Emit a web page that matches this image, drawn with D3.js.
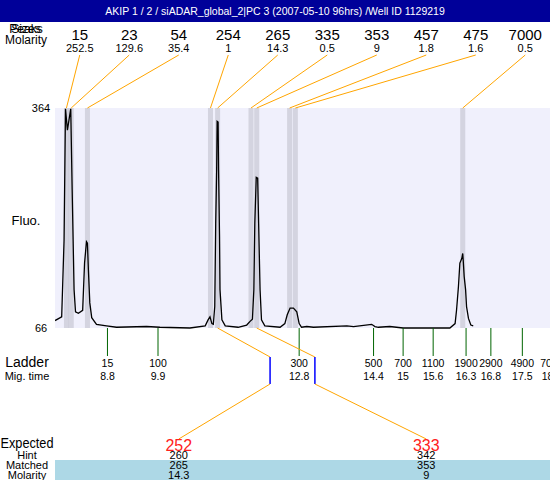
<!DOCTYPE html>
<html><head><meta charset="utf-8">
<script src="https://cdn.jsdelivr.net/npm/d3@7"></script>
<style>
body{margin:0;background:#fff}
svg{display:block}
text{font-family:"Liberation Sans",Arial,sans-serif}
</style>
</head><body><svg id="chart" width="550" height="480"></svg>
<script>
const titleText = "AKIP 1 / 2 / siADAR_global_2|PC 3 (2007-05-10 96hrs) /Well ID 1129219";
const peakSizes = [15, 23, 54, 254, 265, 335, 353, 457, 475, 7000];
const peakMolarity = [252.5, 129.6, 35.4, 1, 14.3, 0.5, 9, 1.8, 1.6, 0.5];
const peakTimes = [7.94, 8.04, 8.38, 10.96, 11.11, 11.81, 11.93, 12.62, 12.74, 16.25];
const ladderSizes = [15, 100, 300, 500, 700, 1100, 1900, 2900, 4900, 7000];
const ladderTimes = [8.80, 9.86, 12.82, 14.38, 15.00, 15.63, 16.32, 16.84, 17.50, 18.12];
const expectedSizes = [252, 333];
const expectedTimes = [12.21, 13.15];
const hintSizes = [260, 342];
const matchedSizes = [265, 353];
const matchedMolarity = [14.3, 9];
const matchedPeakIndex = [4, 6];
const fluoRange = [66, 364];
const timeRange = [7.70, 18.08];
const traceTime = [7.70,7.84,7.89,7.92,7.96,8.03,8.06,8.10,8.13,8.19,8.28,8.32,8.36,8.38,8.40,8.43,8.47,8.57,8.78,8.99,9.62,9.90,10.53,10.85,10.91,10.95,10.99,11.02,11.05,11.07,11.09,11.10,11.12,11.13,11.15,11.16,11.20,11.27,11.54,11.72,11.79,11.84,11.87,11.89,11.92,11.95,11.97,12.00,12.03,12.10,12.42,12.52,12.57,12.63,12.70,12.77,12.82,12.87,12.98,13.12,13.82,13.96,14.34,14.41,14.48,14.72,15.00,15.98,16.09,16.12,16.16,16.19,16.23,16.25,16.26,16.28,16.31,16.33,16.37,16.42,16.47];
const traceFluo = [76,81,185,363,334,363,253,118,88,86,90,154,183,181,145,100,80,71,69,67,68,67,66,69,77,81,72,71,95,208,280,346,345,280,190,118,77,69,67,70,75,78,118,208,270,269,208,118,77,69,67,72,84,93,93,88,72,67,68,67,69,68,71,68,67,68,66,66,72,90,122,154,160,167,158,136,118,95,79,70,69];

const W = 550, H = 480;
const plot = {left: 55, right: 550, top: 108, bottom: 328};
const svg = d3.select("#chart");
const x = d3.scaleLinear().domain(timeRange).range([plot.left, plot.right]);
const y = d3.scaleLinear().domain(fluoRange).range([plot.bottom, plot.top]);
const colX = d3.scaleBand().domain(d3.range(peakSizes.length)).range([plot.left, plot.right]);
const expX = d3.scaleBand().domain(d3.range(expectedSizes.length)).range([plot.left, plot.right]);
const fmt = d3.format(".1~f");

// plot background
svg.append("rect").attr("x", plot.left).attr("y", plot.top)
  .attr("width", plot.right - plot.left).attr("height", plot.bottom - plot.top)
  .attr("fill", "#f0f0fc");

// peak bands
svg.append("g").selectAll("rect").data(peakTimes).join("rect")
  .attr("x", d => x(d) - 2.5).attr("y", plot.top)
  .attr("width", 5).attr("height", plot.bottom - plot.top)
  .attr("fill", "#80808c").attr("fill-opacity", 0.25);

// trace
svg.append("clipPath").attr("id", "pc").append("rect")
  .attr("x", plot.left).attr("y", plot.top).attr("width", plot.right - plot.left).attr("height", plot.bottom - plot.top + 1);
svg.append("path").datum(d3.zip(traceTime, traceFluo))
  .attr("clip-path", "url(#pc)")
  .attr("d", d3.line().x(d => x(d[0])).y(d => y(d[1])))
  .attr("fill", "none").attr("stroke", "#000").attr("stroke-width", 1.3);

// y labels
svg.append("g").selectAll("text").data(fluoRange).join("text")
  .attr("x", 41).attr("y", d => y(d) + 4).attr("text-anchor", "middle")
  .attr("font-size", 11).text(d => d);
svg.append("text").attr("x", 26).attr("y", 225).attr("text-anchor", "middle")
  .attr("font-size", 13).text("Fluo.");

// ladder
const lad = svg.append("g");
lad.selectAll("line").data(ladderTimes).join("line")
  .attr("x1", d => x(d)).attr("x2", d => x(d)).attr("y1", plot.bottom).attr("y2", 356)
  .attr("stroke", "#006400").attr("stroke-width", 1);
lad.selectAll("text.s").data(ladderSizes).join("text").attr("class", "s")
  .attr("x", (d, i) => x(ladderTimes[i])).attr("y", 367).attr("text-anchor", "middle")
  .attr("font-size", 10.5).text(d => d);
lad.selectAll("text.t").data(ladderTimes).join("text").attr("class", "t")
  .attr("x", d => x(d)).attr("y", 380).attr("text-anchor", "middle")
  .attr("font-size", 10.5).text(d => fmt(d));
svg.append("text").attr("x", 27).attr("y", 367).attr("text-anchor", "middle").attr("font-size", 14).text("Ladder");
svg.append("text").attr("x", 27).attr("y", 380).attr("text-anchor", "middle").attr("font-size", 11).text("Mig. time");

// header connectors
svg.append("g").selectAll("line").data(peakTimes).join("line")
  .attr("x1", (d, i) => colX(i) + colX.bandwidth() / 2).attr("y1", 55)
  .attr("x2", d => x(d)).attr("y2", plot.top)
  .attr("stroke", "orange").attr("stroke-width", 1);

// header values
const hdr = svg.append("g");
hdr.selectAll("text.sz").data(peakSizes).join("text").attr("class", "sz")
  .attr("x", (d, i) => colX(i) + colX.bandwidth() / 2).attr("y", 40)
  .attr("text-anchor", "middle").attr("font-size", 15).text(d => d);
hdr.selectAll("text.mo").data(peakMolarity).join("text").attr("class", "mo")
  .attr("x", (d, i) => colX(i) + colX.bandwidth() / 2).attr("y", 52)
  .attr("text-anchor", "middle").attr("font-size", 11).text(d => d);
["Peaks", "Sizes"].forEach(t => svg.append("text").attr("x", 26).attr("y", 33)
  .attr("text-anchor", "middle").attr("font-size", 12).text(t));
svg.append("text").attr("x", 26).attr("y", 44).attr("text-anchor", "middle").attr("font-size", 12).text("Molarity");

// title bar
svg.append("rect").attr("x", 0).attr("y", 0).attr("width", W).attr("height", 22).attr("fill", "#000099");
svg.append("text").attr("x", W / 2).attr("y", 15).attr("text-anchor", "middle")
  .attr("font-size", 10.5).attr("fill", "#fff").text(titleText);

// expected section
svg.append("rect").attr("x", plot.left).attr("y", 460).attr("width", plot.right - plot.left).attr("height", 20)
  .attr("fill", "lightblue");
const ex = svg.append("g");
expectedTimes.forEach((t, j) => {
  const px = x(peakTimes[matchedPeakIndex[j]]);
  const bx = x(t);
  const lx = expX(j) + expX.bandwidth() / 2;
  ex.append("line").attr("x1", px).attr("y1", plot.bottom).attr("x2", bx).attr("y2", 357)
    .attr("stroke", "orange").attr("stroke-width", 1);
  ex.append("line").attr("x1", bx).attr("y1", 357).attr("x2", bx).attr("y2", 384)
    .attr("stroke", "#0000ff").attr("stroke-width", 1.5);
  ex.append("line").attr("x1", bx).attr("y1", 384).attr("x2", lx).attr("y2", 439)
    .attr("stroke", "orange").attr("stroke-width", 1);
});
const rows = [
  {vals: expectedSizes, y: 450.5, size: 16, color: "#ff2020"},
  {vals: hintSizes, y: 459, size: 11, color: "#000"},
  {vals: matchedSizes, y: 469, size: 11, color: "#000"},
  {vals: matchedMolarity, y: 479, size: 11, color: "#000"}
];
rows.forEach(r => {
  ex.selectAll(null).data(r.vals).join("text")
    .attr("x", (d, i) => expX(i) + expX.bandwidth() / 2).attr("y", r.y)
    .attr("text-anchor", "middle").attr("font-size", r.size).attr("fill", r.color).text(d => d);
});
[["Expected", 448, 14, 53], ["Hint", 459, 11, 0], ["Matched", 469, 11, 0], ["Molarity", 479, 11, 0]].forEach(([t, yy, s, len]) => {
  const tx = svg.append("text").attr("x", 27).attr("y", yy).attr("text-anchor", "middle").attr("font-size", s).text(t);
  if (len) tx.attr("textLength", len).attr("lengthAdjust", "spacingAndGlyphs");
});
</script>
</body></html>
